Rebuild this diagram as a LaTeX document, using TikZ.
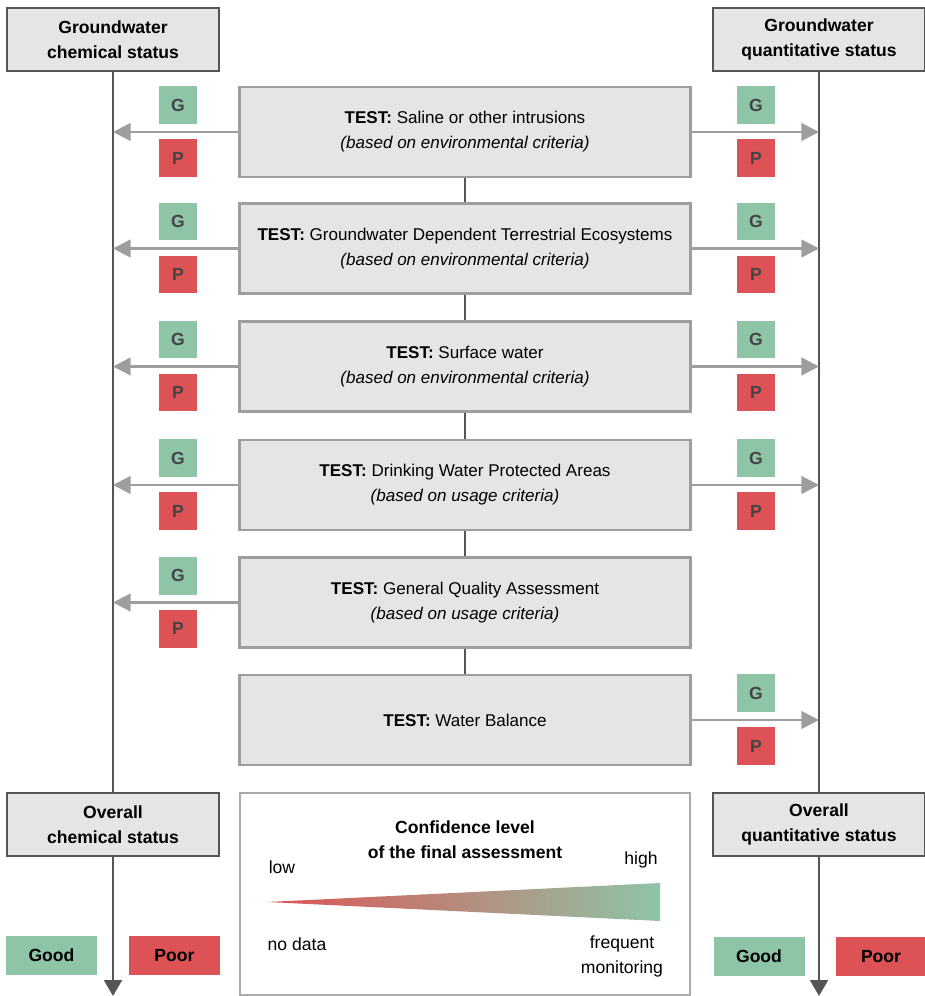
\documentclass[tikz,border=0pt]{standalone}
\usepackage{fontspec}
\setmainfont{Liberation Sans}
\usetikzlibrary{arrows.meta,calc,positioning}

\definecolor{boxgray}{HTML}{E5E5E5}
\definecolor{darkline}{HTML}{555555}
\definecolor{lightline}{HTML}{9E9E9E}
\definecolor{legendline}{HTML}{AAAAAA}
\definecolor{goodgreen}{HTML}{8EC5A7}
\definecolor{poorred}{HTML}{DD5355}
\definecolor{lettergray}{HTML}{444444}

\newcommand{\basefont}{\fontsize{10}{14.2}\selectfont}
\newcommand{\testfont}{\fontsize{9.7}{14.2}\selectfont}

\tikzset{
  status/.style={draw=darkline, line width=1.6pt, fill=boxgray, font=\basefont\bfseries,
    minimum width=4.24cm, minimum height=1.26cm},
  test/.style={draw=lightline, line width=1.4pt, fill=boxgray, font=\testfont,
    minimum width=9.02cm, minimum height=1.8cm},
  gsq/.style={fill=goodgreen, text=lettergray, font=\basefont\bfseries, minimum size=0.76cm},
  psq/.style={gsq, fill=poorred},
  flow/.style={draw=lightline, line width=1.4pt, -{Triangle[length=10pt,width=10pt]}},
  axis/.style={draw=darkline, line width=1.6pt},
  verdict/.style={font=\basefont\bfseries, minimum width=1.82cm, minimum height=0.78cm}
}

\begin{document}
\begin{tikzpicture}[x=0.02cm, y=-0.02cm, align=center, font=\basefont]
    \useasboundingbox (0,0) rectangle (925,996);

    % status columns
    \node[status] at (113,39.5) (gwchem) {Groundwater\\chemical status};
    \node[status] at (819,39.5) (gwquant) {Groundwater\\quantitative status};
    \node[status] at (113,824.5) (ovchem) {Overall\\chemical status};
    \node[status] at (819,824.5) (ovquant) {Overall\\quantitative status};
    \coordinate (endchem) at (113,996);
    \coordinate (endquant) at (819,996);

    % tests
    \node[test] at (465,132) (t1) {\textbf{TEST:} Saline or other intrusions\\\textit{(based on environmental criteria)}};
    \node[test] at (465,248.5) (t2) {\textbf{TEST:} Groundwater Dependent Terrestrial Ecosystems\\\textit{(based on environmental criteria)}};
    \node[test] at (465,366.5) (t3) {\textbf{TEST:} Surface water\\\textit{(based on environmental criteria)}};
    \node[test] at (465,485) (t4) {\textbf{TEST:} Drinking Water Protected Areas\\\textit{(based on usage criteria)}};
    \node[test] at (465,602.5) (t5) {\textbf{TEST:} General Quality Assessment\\\textit{(based on usage criteria)}};
    \node[test] at (465,720) (t6) {\textbf{TEST:} Water Balance};

    \draw[axis] (gwchem) -- (ovchem);
    \draw[axis] (gwquant) -- (ovquant);
    \draw[axis, -{Triangle[length=9pt,width=10pt]}] (ovchem) -- (endchem);
    \draw[axis, -{Triangle[length=9pt,width=10pt]}] (ovquant) -- (endquant);
    \draw[axis, line width=1.2pt] (t1) -- (t2) (t2) -- (t3) (t3) -- (t4) (t4) -- (t5) (t5) -- (t6);

    % results of each test
    \foreach \t in {t1,t2,t3,t4,t5} {
        \draw[flow] (\t.west) -- (\t.west -| gwchem);
        \node[gsq] at ($(\t.west -| gwchem)+(65,-27)$) (\t-gl) {G};
        \node[psq] at ($(\t.west -| gwchem)+(65,26)$) (\t-pl) {P};
    }
    \foreach \t in {t1,t2,t3,t4,t6} {
        \draw[flow] (\t.east) -- (\t.east -| gwquant);
        \node[gsq] at ($(\t.east -| gwquant)+(-63,-27)$) (\t-gr) {G};
        \node[psq] at ($(\t.east -| gwquant)+(-63,26)$) (\t-pr) {P};
    }

    % final verdicts
    \node[verdict, fill=goodgreen] at (51.5,955.5) (goodchem) {Good};
    \node[verdict, fill=poorred] at (174.5,955.5) (poorchem) {Poor};
    \node[verdict, fill=goodgreen] at (759,956.5) (goodquant) {Good};
    \node[verdict, fill=poorred] at (881,956.5) (poorquant) {Poor};

    % legend
    \node[draw=legendline, line width=1.2pt, minimum width=9cm, minimum height=4.04cm] at (465,894) (legend) {};
    \node[font=\basefont\bfseries] at (465,840) (conf) {Confidence level\\of the final assessment};
    \node at (282,867) (low) {low};
    \node at (641,860) (high) {high};
    \node at (297,944) (nodata) {no data};
    \node at (622,956) (freq) {frequent\\monitoring};
    \shade[left color=poorred, right color=goodgreen] (267,902) -- (660,883) -- (660,921) -- cycle;
\end{tikzpicture}
\end{document}
